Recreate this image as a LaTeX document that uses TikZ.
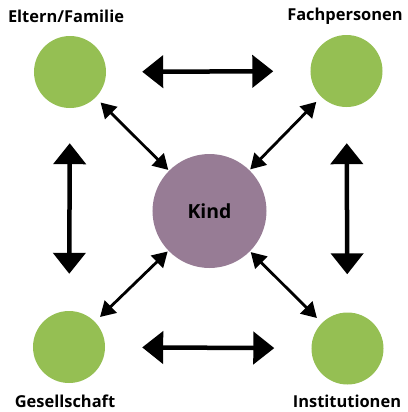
\documentclass[tikz,border=0pt]{standalone}
\usepackage{fontspec}
\setmainfont{Open Sans}
\usetikzlibrary{arrows.meta}
\definecolor{leaf}{HTML}{95BF53}
\definecolor{plum}{HTML}{977C95}
\tikzset{
  outer/.style={circle, fill=leaf, minimum size=72bp, inner sep=0pt},
  core/.style={circle, fill=plum, minimum size=114bp, inner sep=0pt, font=\bfseries\fontsize{19.5}{22}\selectfont},
  lbl/.style={font=\bfseries\fontsize{16.5}{19}\selectfont, inner sep=0pt},
  bigarrow/.style={line width=4.5bp, {Triangle[length=21bp,width=32bp]}-{Triangle[length=21bp,width=32bp]}},
  smallarrow/.style={line width=2.8bp, {Triangle[length=15bp,width=17bp]}-{Triangle[length=15bp,width=17bp]}}
}
\begin{document}
\begin{tikzpicture}[x=1bp,y=-1bp]
\useasboundingbox (0,0) rectangle (408,412);
\node[outer] (tl) at (70,72) {};
\node[outer] (tr) at (346.5,71) {};
\node[outer] (bl) at (69,347) {};
\node[outer] (br) at (347.5,348.5) {};
\node[core] (kind) at (209.5,211) {Kind};
\node[lbl] (ltl) at (66,16) {Eltern/Familie};
\node[lbl] (ltr) at (345,16) {Fachpersonen};
\node[lbl] (lbl) at (65,401.5) {Gesellschaft};
\node[lbl] (lbr) at (347,401.5) {Institutionen};
\draw[bigarrow, shorten <=36bp, shorten >=37bp] (tl) -- (tr);
\draw[bigarrow, shorten <=37bp, shorten >=37bp] (bl) -- (br);
\draw[bigarrow, shorten <=35bp, shorten >=37bp] (tl) -- (bl);
\draw[bigarrow, shorten <=36bp, shorten >=38bp] (tr) -- (br);
\draw[smallarrow, shorten <=7bp, shorten >=1bp] (tl) -- (kind);
\draw[smallarrow, shorten <=7bp, shorten >=1bp] (tr) -- (kind);
\draw[smallarrow, shorten <=7bp, shorten >=1bp] (bl) -- (kind);
\draw[smallarrow, shorten <=7bp, shorten >=1bp] (br) -- (kind);
\end{tikzpicture}
\end{document}
